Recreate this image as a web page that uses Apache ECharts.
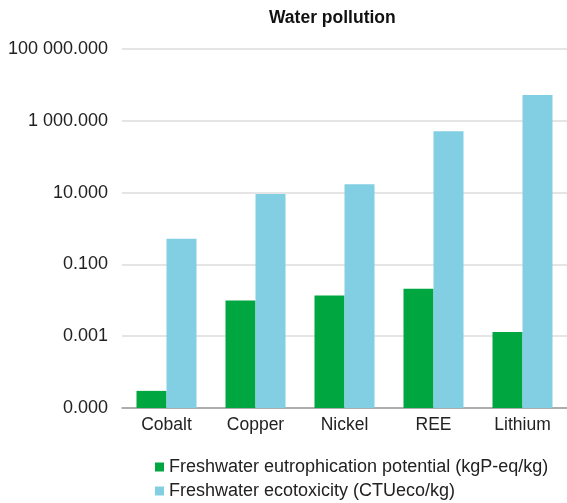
<!DOCTYPE html>
<html>
<head>
<meta charset="utf-8">
<script src="https://cdn.jsdelivr.net/npm/echarts@6/dist/echarts.min.js"></script>
<style>
  html, body { margin: 0; padding: 0; background: #fff; }
  #chart { width: 567px; height: 503px; }
</style>
</head>
<body>
<div id="chart"></div>
<script>
// Minerals on the category axis
const categories = ['Cobalt', 'Copper', 'Nickel', 'REE', 'Lithium'];
// Freshwater eutrophication potential (kgP-eq/kg)
const eutrophication = [0.00003, 0.0098, 0.0137, 0.021, 0.0013];
// Freshwater ecotoxicity (CTUeco/kg)
const ecotoxicity = [0.52, 9.1, 17, 510, 5200];
// Log-axis range (every second decade is labelled)
const axisMin = 0.00001;
const axisMax = 100000;
const seriesNames = [
  'Freshwater eutrophication potential (kgP-eq/kg)',
  'Freshwater ecotoxicity (CTUeco/kg)'
];

const FONT = 'Liberation Sans, Arial, sans-serif';

// 12345.678 -> "12 345.678"
function formatTick(v) {
  const parts = v.toFixed(3).split('.');
  parts[0] = parts[0].replace(/\B(?=(\d{3})+(?!\d))/g, ' ');
  return parts.join('.');
}

const chart = echarts.init(document.getElementById('chart'), null, { renderer: 'canvas' });
chart.setOption({
  animation: false,
  backgroundColor: '#ffffff',
  title: {
    text: 'Water pollution',
    left: 264,
    top: 4,
    textStyle: { fontFamily: FONT, fontSize: 17.5, fontWeight: 'bold', color: '#111' }
  },
  legend: {
    orient: 'vertical',
    left: 155,
    top: 458,
    padding: 0,
    itemWidth: 9,
    itemHeight: 9,
    itemGap: 6,
    icon: 'rect',
    textStyle: { fontFamily: FONT, fontSize: 18, color: '#222' },
    data: seriesNames
  },
  grid: { left: 122, right: -6, top: 49, bottom: 95, containLabel: false },
  xAxis: {
    type: 'category',
    data: categories,
    axisLine: { lineStyle: { color: '#9a9a9a', width: 1.5 } },
    axisTick: { show: false },
    axisLabel: { fontFamily: FONT, fontSize: 17.5, color: '#222', margin: 8 }
  },
  yAxis: {
    type: 'log',
    logBase: 10,
    min: axisMin,
    max: axisMax,
    startValue: axisMin,
    interval: 2,
    axisLine: { show: false },
    axisTick: { show: false },
    splitLine: { lineStyle: { color: '#dcdcdc', width: 1.5 } },
    axisLabel: { fontFamily: FONT, fontSize: 18, color: '#222', margin: 14, formatter: formatTick }
  },
  series: [
    {
      name: seriesNames[0],
      type: 'bar',
      data: eutrophication,
      barWidth: 30,
      barGap: '0%',
      itemStyle: { color: '#00a63f' }
    },
    {
      name: seriesNames[1],
      type: 'bar',
      data: ecotoxicity,
      barWidth: 30,
      barGap: '0%',
      itemStyle: { color: '#82cfe3' }
    }
  ]
});
</script>
</body>
</html>
